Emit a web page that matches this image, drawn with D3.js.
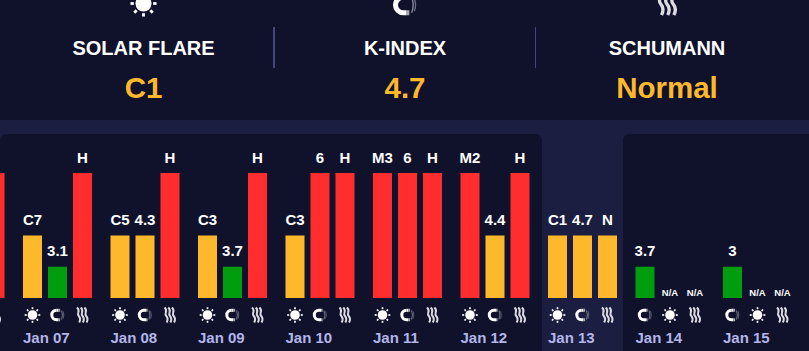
<!DOCTYPE html>
<html>
<head>
<meta charset="utf-8">
<script src="https://cdn.jsdelivr.net/npm/d3@7"></script>
<style>
  html, body { margin: 0; padding: 0; background: #1b1e41; overflow: hidden; }
  svg { display: block; font-family: "Liberation Sans", Arial, sans-serif; font-weight: 700; }
</style>
</head>
<body>
<svg width="809" height="351"></svg>
<script>
// Current readings
var headerTitles = ["SOLAR FLARE", "K-INDEX", "SCHUMANN"];
var headerValues = ["C1", "4.7", "Normal"];
var headerIcons = ["sun", "magnet", "waves"];

// One entry per day, Jan 06 is cut off by the left edge
var days = ["Jan 06", "Jan 07", "Jan 08", "Jan 09", "Jan 10", "Jan 11", "Jan 12", "Jan 13", "Jan 14", "Jan 15"];
var solarLabels = [null, "C7", "C5", "C3", "C3", "M3", "M2", "C1", "N/A", "N/A"];
var solarLevels = [null, 2, 2, 2, 2, 4, 4, 2, 0, 0];
var kpLabels = [null, "3.1", "4.3", "3.7", "6", "6", "4.4", "4.7", "3.7", "3"];
var kpLevels = [null, 1, 2, 1, 4, 4, 2, 2, 1, 1];
var schumannLabels = ["H", "H", "H", "H", "H", "H", "H", "N", "N/A", "N/A"];
var schumannLevels = [4, 4, 4, 4, 4, 4, 4, 2, 0, 0];
var slotOrders = ["skw", "skw", "skw", "skw", "skw", "skw", "skw", "skw", "ksw", "ksw"];

var levelColors = { 1: "#009e0f", 2: "#fdb92b", 4: "#ff2d2d" };
var panelColor = "#10122c";
var todayIndex = 7;

const svg = d3.select("svg");

const dayX = d3.scaleBand().domain(days).range([-64.5, 810.5]);
const slotX = d3.scaleBand().domain([0, 1, 2]).range([0, 69]).paddingInner(6 / 25);
const barY = d3.scaleLinear().domain([0, 4]).range([298, 173]);

function drawIcon(parent, type, cx, cy, scale) {
    const g = parent.append("g")
        .attr("transform", `translate(${cx},${cy}) scale(${scale})`)
        .attr("fill", "none");
    if (type === "sun") {
        g.append("circle").attr("r", 4.8).attr("fill", "#fff");
        d3.range(8).forEach(i => {
            const a = i * Math.PI / 4;
            g.append("line")
                .attr("x1", Math.cos(a) * 5.8).attr("y1", Math.sin(a) * 5.8)
                .attr("x2", Math.cos(a) * 7.8).attr("y2", Math.sin(a) * 7.8)
                .attr("stroke", "#fff").attr("stroke-width", 1.7);
        });
    } else if (type === "magnet") {
        g.append("path").attr("d", "M-1,-4.7 A4.7,4.7 0 1 0 -1,4.7 H1")
            .attr("stroke", "#fff").attr("stroke-width", 3);
        g.append("path").attr("d", "M-1,-4.7 H1")
            .attr("stroke", "#fff").attr("stroke-width", 3);
        g.append("path").attr("d", "M1,-4.7 H2.6 M1,4.7 H2.6")
            .attr("stroke", "#a8a8b4").attr("stroke-width", 3);
        g.append("path").attr("d", "M4,-4.6 Q5.8,0 4,4.6")
            .attr("stroke", "#8c8ca0").attr("stroke-width", 0.8);
        g.append("path").attr("d", "M5.6,-3.8 Q7,0 5.6,3.8")
            .attr("stroke", "#6e6e86").attr("stroke-width", 0.8);
    } else {
        [-3.7, 0, 3.7].forEach(dx => {
            g.append("path")
                .attr("d", `M${dx - 1.8},-7.5 C${dx + 2.4},-3.5 ${dx - 2.8},-2 ${dx},1 C${dx + 1.8},3 ${dx + 1.6},5.2 ${dx + 0.4},7.5`)
                .attr("stroke", "#dcdce2").attr("stroke-width", 2);
        });
    }
}

// Header panel
svg.append("rect")
    .attr("x", -12).attr("y", -12).attr("width", 833).attr("height", 132)
    .attr("rx", 12).attr("fill", panelColor);

const headerX = [143.5, 405, 667];
const headerIconY = [3.5, 5, 2.5];

headerTitles.forEach((t, i) => {
    drawIcon(svg, headerIcons[i], headerX[i], headerIconY[i], 1.67);
    svg.append("text").attr("x", headerX[i]).attr("y", 54.5)
        .attr("text-anchor", "middle").attr("font-size", 20).attr("fill", "#fff").text(t);
    svg.append("text").attr("x", headerX[i]).attr("y", 98)
        .attr("text-anchor", "middle").attr("font-size", 29.5).attr("fill", "#fdb92b").text(headerValues[i]);
});

svg.append("rect").attr("x", 273).attr("y", 27).attr("width", 2).attr("height", 41).attr("fill", "#45457f");
svg.append("rect").attr("x", 535).attr("y", 27).attr("width", 1).attr("height", 41).attr("fill", "#45457f");

// Forecast panels, the current day sits on the lighter background between them
const todayX = dayX(days[todayIndex]);
svg.append("rect")
    .attr("x", 0).attr("y", 134).attr("width", todayX - 6).attr("height", 230)
    .attr("rx", 6).attr("fill", panelColor);
svg.append("rect")
    .attr("x", todayX + dayX.step() - 12.5).attr("y", 134).attr("width", 260).attr("height", 230)
    .attr("rx", 6).attr("fill", panelColor);

const dayGroups = svg.selectAll(".day")
    .data(days)
    .enter().append("g")
    .attr("class", "day")
    .attr("transform", d => `translate(${dayX(d)},0)`);

dayGroups.each(function(day, i) {
    const g = d3.select(this);
    // texts of the first day fall outside the window
    const showText = dayX(day) >= 0;
    const metrics = {
        s: { label: solarLabels[i], level: solarLevels[i], icon: "sun" },
        k: { label: kpLabels[i], level: kpLevels[i], icon: "magnet" },
        w: { label: schumannLabels[i], level: schumannLevels[i], icon: "waves" }
    };
    slotOrders[i].split("").forEach((key, slot) => {
        const m = metrics[key];
        if (m.label === null) return;
        const x = slotX(slot);
        const mid = x + slotX.bandwidth() / 2;
        if (m.level > 0) {
            g.append("rect")
                .attr("x", x).attr("y", barY(m.level))
                .attr("width", slotX.bandwidth()).attr("height", barY(0) - barY(m.level))
                .attr("fill", levelColors[m.level]);
        }
        if (showText) {
            g.append("text")
                .attr("x", mid)
                .attr("y", m.level > 0 ? barY(m.level) - 10.5 : barY(0) - 2)
                .attr("text-anchor", "middle")
                .attr("font-size", m.level > 0 ? 15 : 9.5)
                .attr("fill", "#fff")
                .text(m.label);
        }
        drawIcon(g, m.icon, mid, 315, 1);
    });
    if (showText) {
        g.append("text")
            .attr("x", 0).attr("y", 343)
            .attr("font-size", 15).attr("fill", "#b3b5e8")
            .text(day);
    }
});
</script>
</body>
</html>
